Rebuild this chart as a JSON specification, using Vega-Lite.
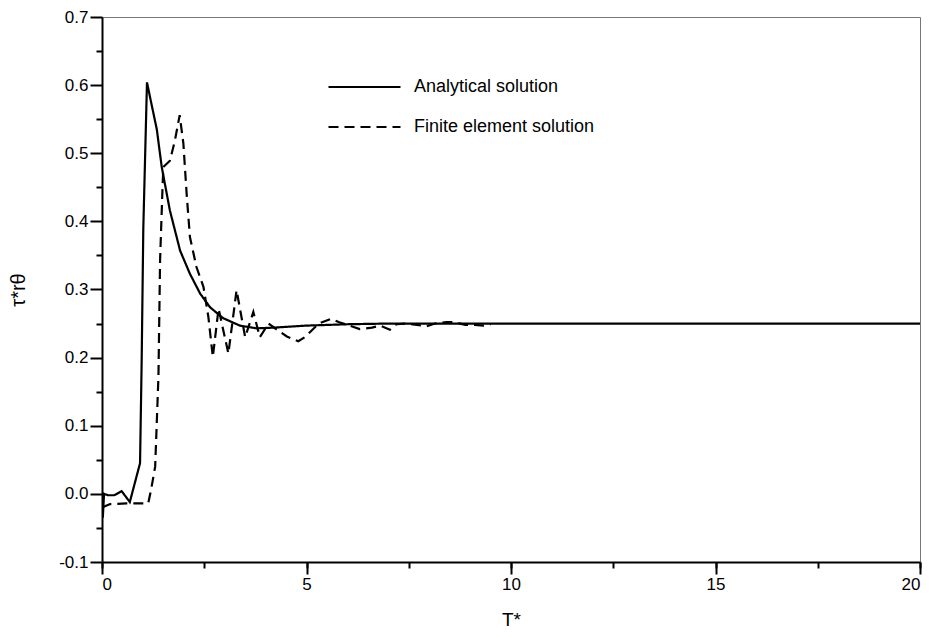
{
  "$schema": "https://vega.github.io/schema/vega-lite/v6.json",
  "width": 818,
  "height": 545,
  "autosize": {"type": "none"},
  "padding": {"left": 102, "top": 17, "right": 12, "bottom": 75},
  "background": "white",
  "config": {
    "view": {"stroke": "#777", "strokeWidth": 1},
    "font": "Liberation Sans",
    "axis": {
      "grid": false,
      "domainColor": "black",
      "domainWidth": 2,
      "tickColor": "black",
      "tickWidth": 2,
      "labelColor": "black",
      "labelFont": "Liberation Sans",
      "labelFontSize": 17,
      "titleFont": "Liberation Sans",
      "titleFontWeight": "normal",
      "titleColor": "black"
    }
  },
  "data": {
    "values": [
      {"T": 0.02, "v": -0.035, "series": "Analytical solution"},
      {"T": 0.05, "v": 0.0, "series": "Analytical solution"},
      {"T": 0.15, "v": -0.002, "series": "Analytical solution"},
      {"T": 0.3, "v": -0.002, "series": "Analytical solution"},
      {"T": 0.48, "v": 0.004, "series": "Analytical solution"},
      {"T": 0.68, "v": -0.012, "series": "Analytical solution"},
      {"T": 0.93, "v": 0.045, "series": "Analytical solution"},
      {"T": 0.97, "v": 0.196, "series": "Analytical solution"},
      {"T": 1.01, "v": 0.39, "series": "Analytical solution"},
      {"T": 1.1, "v": 0.604, "series": "Analytical solution"},
      {"T": 1.2, "v": 0.575, "series": "Analytical solution"},
      {"T": 1.34, "v": 0.535, "series": "Analytical solution"},
      {"T": 1.46, "v": 0.48, "series": "Analytical solution"},
      {"T": 1.66, "v": 0.416, "series": "Analytical solution"},
      {"T": 1.91, "v": 0.357, "series": "Analytical solution"},
      {"T": 2.15, "v": 0.323, "series": "Analytical solution"},
      {"T": 2.4, "v": 0.294, "series": "Analytical solution"},
      {"T": 2.64, "v": 0.274, "series": "Analytical solution"},
      {"T": 2.96, "v": 0.258, "series": "Analytical solution"},
      {"T": 3.37, "v": 0.247, "series": "Analytical solution"},
      {"T": 3.78, "v": 0.243, "series": "Analytical solution"},
      {"T": 4.2, "v": 0.244, "series": "Analytical solution"},
      {"T": 5.0, "v": 0.247, "series": "Analytical solution"},
      {"T": 6.0, "v": 0.249, "series": "Analytical solution"},
      {"T": 7.0, "v": 0.25, "series": "Analytical solution"},
      {"T": 20.0, "v": 0.25, "series": "Analytical solution"},
      {"T": 0.0, "v": -0.02, "series": "Finite element solution"},
      {"T": 0.2, "v": -0.015, "series": "Finite element solution"},
      {"T": 0.6, "v": -0.014, "series": "Finite element solution"},
      {"T": 1.13, "v": -0.014, "series": "Finite element solution"},
      {"T": 1.2, "v": 0.006, "series": "Finite element solution"},
      {"T": 1.3, "v": 0.04, "series": "Finite element solution"},
      {"T": 1.38, "v": 0.172, "series": "Finite element solution"},
      {"T": 1.42, "v": 0.343, "series": "Finite element solution"},
      {"T": 1.48, "v": 0.45, "series": "Finite element solution"},
      {"T": 1.5, "v": 0.48, "series": "Finite element solution"},
      {"T": 1.66, "v": 0.489, "series": "Finite element solution"},
      {"T": 1.78, "v": 0.518, "series": "Finite element solution"},
      {"T": 1.9, "v": 0.556, "series": "Finite element solution"},
      {"T": 1.99, "v": 0.514, "series": "Finite element solution"},
      {"T": 2.07, "v": 0.44, "series": "Finite element solution"},
      {"T": 2.15, "v": 0.377, "series": "Finite element solution"},
      {"T": 2.31, "v": 0.333, "series": "Finite element solution"},
      {"T": 2.48, "v": 0.304, "series": "Finite element solution"},
      {"T": 2.6, "v": 0.26, "series": "Finite element solution"},
      {"T": 2.71, "v": 0.201, "series": "Finite element solution"},
      {"T": 2.85, "v": 0.272, "series": "Finite element solution"},
      {"T": 3.09, "v": 0.206, "series": "Finite element solution"},
      {"T": 3.29, "v": 0.299, "series": "Finite element solution"},
      {"T": 3.5, "v": 0.23, "series": "Finite element solution"},
      {"T": 3.7, "v": 0.267, "series": "Finite element solution"},
      {"T": 3.86, "v": 0.23, "series": "Finite element solution"},
      {"T": 4.07, "v": 0.25, "series": "Finite element solution"},
      {"T": 4.35, "v": 0.238, "series": "Finite element solution"},
      {"T": 4.52, "v": 0.231, "series": "Finite element solution"},
      {"T": 4.8, "v": 0.224, "series": "Finite element solution"},
      {"T": 4.96, "v": 0.23, "series": "Finite element solution"},
      {"T": 5.3, "v": 0.25, "series": "Finite element solution"},
      {"T": 5.6, "v": 0.257, "series": "Finite element solution"},
      {"T": 5.8, "v": 0.252, "series": "Finite element solution"},
      {"T": 6.1, "v": 0.246, "series": "Finite element solution"},
      {"T": 6.3, "v": 0.242, "series": "Finite element solution"},
      {"T": 6.6, "v": 0.244, "series": "Finite element solution"},
      {"T": 6.8, "v": 0.247, "series": "Finite element solution"},
      {"T": 7.04, "v": 0.241, "series": "Finite element solution"},
      {"T": 7.2, "v": 0.249, "series": "Finite element solution"},
      {"T": 7.45, "v": 0.25, "series": "Finite element solution"},
      {"T": 7.94, "v": 0.246, "series": "Finite element solution"},
      {"T": 8.14, "v": 0.25, "series": "Finite element solution"},
      {"T": 8.43, "v": 0.252, "series": "Finite element solution"},
      {"T": 8.63, "v": 0.252, "series": "Finite element solution"},
      {"T": 8.88, "v": 0.248, "series": "Finite element solution"},
      {"T": 9.12, "v": 0.248, "series": "Finite element solution"},
      {"T": 9.32, "v": 0.247, "series": "Finite element solution"},
      {"T": 9.5, "v": 0.249, "series": "Finite element solution"}
    ]
  },
  "layer": [
    {
      "mark": {"type": "line", "color": "black", "strokeWidth": 2.2, "clip": true},
      "encoding": {
        "x": {
          "field": "T",
          "type": "quantitative",
          "scale": {"domain": [0, 20], "nice": false, "zero": false},
          "axis": {
            "orient": "bottom",
            "title": null,
            "values": [0, 2.5, 5, 7.5, 10, 12.5, 15, 17.5, 20],
            "labels": false,
            "domain": false,
            "tickSize": 6
          }
        },
        "y": {
          "field": "v",
          "type": "quantitative",
          "scale": {"domain": [-0.1, 0.7], "nice": false, "zero": false},
          "axis": {
            "orient": "left",
            "title": null,
            "values": [-0.05, 0.05, 0.15, 0.25, 0.35, 0.45, 0.55, 0.65],
            "labels": false,
            "domain": false,
            "tickSize": 6
          }
        },
        "strokeDash": {
          "field": "series",
          "type": "nominal",
          "scale": {"domain": ["Analytical solution", "Finite element solution"], "range": [[1, 0], [10, 6]]},
          "legend": {
            "title": null,
            "orient": "none",
            "legendX": 225,
            "legendY": 50,
            "symbolType": "stroke",
            "symbolSize": 5184,
            "symbolStrokeWidth": 2.2,
            "symbolStrokeColor": "black",
            "labelFontSize": 18,
            "labelFont": "Liberation Sans",
            "labelColor": "black",
            "labelOffset": 12,
            "labelLimit": 400,
            "clipHeight": 40,
            "rowPadding": 0
          }
        }
      }
    },
    {
      "mark": {"type": "line", "color": "black", "strokeWidth": 0, "opacity": 0},
      "encoding": {
        "x": {
          "field": "T",
          "type": "quantitative",
          "scale": {"domain": [0, 20], "nice": false, "zero": false},
          "axis": {
            "orient": "bottom",
            "title": "T*",
            "titleFontSize": 19,
            "titlePadding": 18,
            "values": [0, 5, 10, 15, 20],
            "format": "d",
            "tickSize": 12,
            "labelPadding": 2
          }
        },
        "y": {
          "field": "v",
          "type": "quantitative",
          "scale": {"domain": [-0.1, 0.7], "nice": false, "zero": false},
          "axis": {
            "orient": "left",
            "title": "τ*rθ",
            "titleFontSize": 20,
            "titlePadding": 30,
            "values": [-0.1, 0, 0.1, 0.2, 0.3, 0.4, 0.5, 0.6, 0.7],
            "labelExpr": "replace(format(datum.value, '.1f'), '\u2212', '-')",
            "tickSize": 12,
            "labelPadding": 2
          }
        },
        "detail": {"field": "series", "type": "nominal"}
      }
    }
  ],
  "resolve": {"axis": {"x": "independent", "y": "independent"}}
}
